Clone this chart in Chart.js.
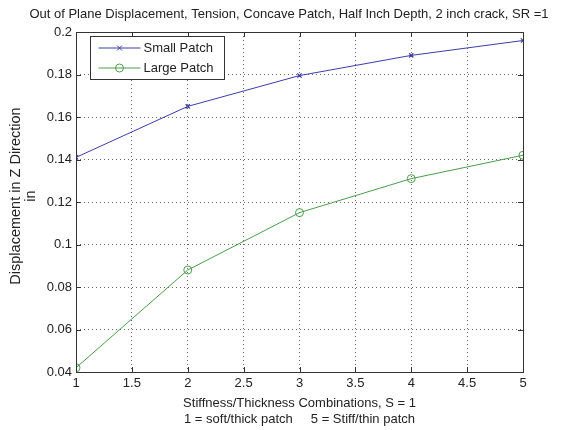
<!DOCTYPE html>
<html><head><meta charset="utf-8">
<script src="https://cdn.jsdelivr.net/npm/chart.js@4/dist/chart.umd.min.js"></script>
<style>html,body{margin:0;padding:0;background:#fff}#wrap{width:571px;height:430px}</style>
</head><body><div id="wrap"><canvas id="c" width="571" height="430"></canvas></div>
<script>
const combos = [1, 2, 3, 4, 5];
const smallPatch = [0.141, 0.165, 0.1795, 0.189, 0.196];
const largePatch = [0.042, 0.088, 0.115, 0.131, 0.142];
const xTicks = [1, 1.5, 2, 2.5, 3, 3.5, 4, 4.5, 5];
const yTicks = [0.04, 0.06, 0.08, 0.1, 0.12, 0.14, 0.16, 0.18, 0.2];
const seriesNames = ['Small Patch', 'Large Patch'];
const titleText = 'Out of Plane Displacement, Tension, Concave Patch, Half Inch Depth, 2 inch crack, SR =1';
const xTitle = ['Stiffness/Thickness Combinations, S = 1', '1 = soft/thick patch     5 = Stiff/thin patch'];
const yTitle = ['Displacement in Z Direction', 'in'];

const FONT = 'Liberation Sans, Arial, sans-serif';
const AXC = '#333';
const TXT = '#222';

const boxPlugin = {
  id: 'box',
  afterDraw(chart) {
    const ctx = chart.ctx, a = chart.chartArea;
    const xs = chart.scales.x, ys = chart.scales.y;
    ctx.save();
    ctx.strokeStyle = AXC; ctx.lineWidth = 1;
    ctx.strokeRect(Math.round(a.left) + 0.5, Math.round(a.top) + 0.5, Math.round(a.right - a.left), Math.round(a.bottom - a.top));
    const L = 5;
    ctx.beginPath();
    xTicks.forEach(v => {
      const x = Math.round(xs.getPixelForValue(v)) + 0.5;
      ctx.moveTo(x, a.bottom); ctx.lineTo(x, a.bottom - L);
      ctx.moveTo(x, a.top); ctx.lineTo(x, a.top + L);
    });
    yTicks.forEach(v => {
      const y = Math.round(ys.getPixelForValue(v)) + 0.5;
      ctx.moveTo(a.left, y); ctx.lineTo(a.left + L, y);
      ctx.moveTo(a.right, y); ctx.lineTo(a.right - L, y);
    });
    ctx.stroke();
    // texts
    ctx.fillStyle = TXT;
    ctx.textAlign = 'center'; ctx.textBaseline = 'middle';
    ctx.font = '13px ' + FONT;
    ctx.fillText(titleText, 289, 14);
    const xc = (a.left + a.right) / 2;
    ctx.fillText(xTitle[0], xc, 403);
    ctx.fillText(xTitle[1], xc, 419);
    ctx.save();
    ctx.translate(16, (a.top + a.bottom) / 2 - 6);
    ctx.rotate(-Math.PI / 2);
    ctx.font = '14.5px ' + FONT;
    ctx.fillText(yTitle[0], 0, 0);
    ctx.fillText(yTitle[1], 0, 15);
    ctx.restore();
    // legend
    const lx = 90.5, ly = 36.5, lw = 134, lh = 43;
    ctx.fillStyle = '#fff';
    ctx.fillRect(lx, ly, lw, lh);
    ctx.strokeStyle = AXC;
    ctx.strokeRect(lx, ly, lw, lh);
    chart.data.datasets.forEach((ds, i) => {
      const y = ly + 11.5 + i * 20;
      ctx.strokeStyle = ds.borderColor; ctx.lineWidth = 1;
      ctx.beginPath(); ctx.moveTo(lx + 8, y); ctx.lineTo(lx + 50, y); ctx.stroke();
      const cx = lx + 29;
      if (ds.pointStyle === 'circle') {
        ctx.beginPath(); ctx.arc(cx, y, 4, 0, Math.PI * 2); ctx.stroke();
      } else {
        ctx.beginPath();
        ctx.moveTo(cx - 2.5, y - 2.5); ctx.lineTo(cx + 2.5, y + 2.5);
        ctx.moveTo(cx - 2.5, y + 2.5); ctx.lineTo(cx + 2.5, y - 2.5);
        ctx.stroke();
      }
      ctx.fillStyle = TXT; ctx.font = '13px ' + FONT;
      ctx.textBaseline = 'middle'; ctx.textAlign = 'left';
      ctx.fillText(ds.label, lx + 53, y + 0.5);
    });
    ctx.restore();
  }
};

new Chart(document.getElementById('c'), {
  type: 'line',
  data: {
    datasets: [
      { label: seriesNames[0], data: combos.map((x, i) => ({x, y: smallPatch[i]})),
        borderColor: '#3c3ca6', backgroundColor: '#3c3ca6', borderWidth: 1,
        pointStyle: 'crossRot', pointRadius: 3, pointBorderWidth: 1.2, tension: 0 },
      { label: seriesNames[1], data: combos.map((x, i) => ({x, y: largePatch[i]})),
        borderColor: '#4e9a4e', backgroundColor: 'rgba(0,0,0,0)', borderWidth: 1,
        pointStyle: 'circle', pointRadius: 4, pointBorderWidth: 1, tension: 0 }
    ]
  },
  options: {
    responsive: false, animation: false,
    layout: { padding: { left: 0, right: 48, top: 32, bottom: 0 } },
    plugins: {
      legend: { display: false }, tooltip: { enabled: false }, title: { display: false }
    },
    scales: {
      x: { type: 'linear', min: 1, max: 5,
        afterBuildTicks(s) { s.ticks = xTicks.map(v => ({ value: v })); },
        afterFit(s) { s.height = 58; },
        ticks: { color: TXT, font: { family: FONT, size: 13 }, padding: 4, maxRotation: 0,
          callback: v => String(v) },
        grid: { color: '#666', lineWidth: 1, drawTicks: false, tickLength: 0 },
        border: { display: false, dash: [1, 3] }
      },
      y: { type: 'linear', min: 0.04, max: 0.2,
        afterBuildTicks(s) { s.ticks = yTicks.map(v => ({ value: v })); },
        afterFit(s) { s.width = 76; },
        ticks: { color: TXT, font: { family: FONT, size: 13 }, padding: 4,
          callback: v => String(+v.toFixed(2)) },
        grid: { color: '#666', lineWidth: 1, drawTicks: false, tickLength: 0 },
        border: { display: false, dash: [1, 3] }
      }
    }
  },
  plugins: [boxPlugin]
});
</script></body></html>
